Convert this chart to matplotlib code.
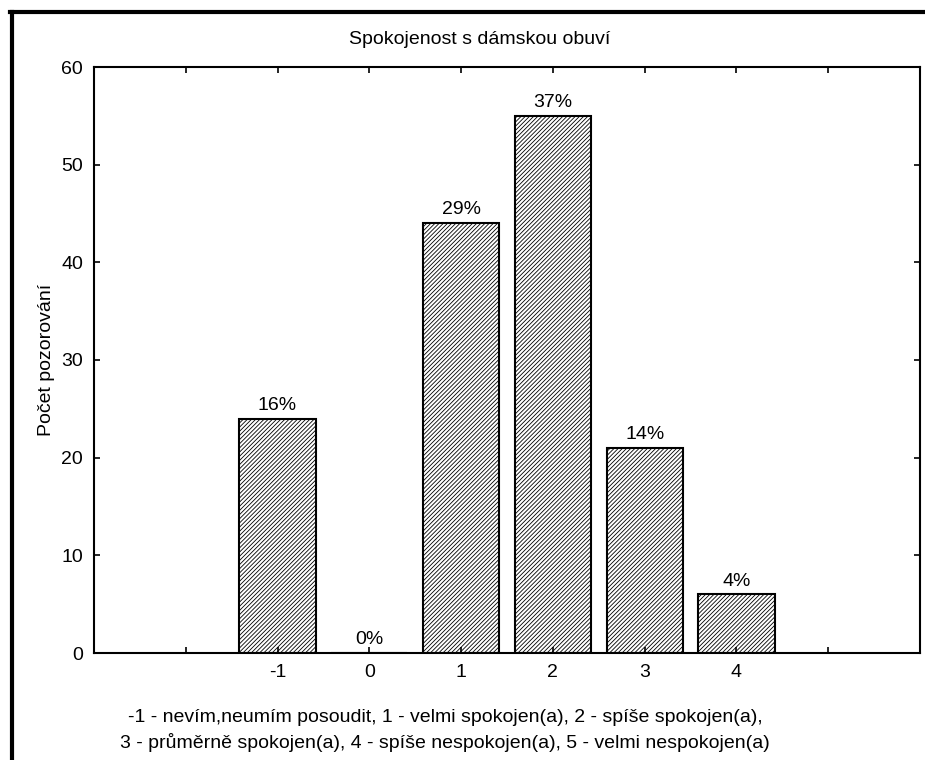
import numpy as np
import matplotlib
matplotlib.use("Agg")
import matplotlib.pyplot as plt
from matplotlib.lines import Line2D

# ── Data ──────────────────────────────────────────────────────────────────
categories = [-1, 0, 1, 2, 3, 4]
counts     = [24, 0, 44, 55, 21, 6]
pct_labels = ["16%", "0%", "29%", "37%", "14%", "4%"]
tick_pos   = list(range(-3, 7))
title      = "Spokojenost s dámskou obuví"
ylabel     = "Počet pozorování"
note_lines = ["-1 - nevím,neumím posoudit, 1 - velmi spokojen(a), 2 - spíše spokojen(a),",
              "3 - průměrně spokojen(a), 4 - spíše nespokojen(a), 5 - velmi nespokojen(a)"]

FS = 14
plt.rcParams["font.family"] = ["Liberation Sans", "DejaVu Sans"]
plt.rcParams["hatch.color"] = "#6a6a6a"
plt.rcParams["hatch.linewidth"] = 0.6

fig = plt.figure(figsize=(9.25, 7.6), dpi=100)
ax = fig.add_axes([94 / 925, 1 - 653 / 760, 826 / 925, 586 / 760])

bars = ax.bar(categories, counts, width=0.83, facecolor="white",
              edgecolor="black", linewidth=1.5, hatch="////////")
for b, lab in zip(bars, pct_labels):
    ax.text(b.get_x() + b.get_width() / 2, b.get_height() + 0.5, lab,
            ha="center", va="bottom", fontsize=FS)

ax.set_xlim(-3, 6)
ax.set_ylim(0, 60)
ax.set_xticks(tick_pos)
ax.set_xticklabels([str(t) if t in categories else "" for t in tick_pos])
ax.set_yticks(range(0, 61, 10))
ax.tick_params(direction="in", length=4, width=1.2, top=True, right=True,
               labelsize=FS, pad=8)
for s in ax.spines.values():
    s.set_linewidth(1.5)
ax.set_ylabel(ylabel, fontsize=FS, labelpad=4)

fig.text(480 / 925, 1 - 40 / 760, title, ha="center", va="center", fontsize=FS)
fig.text(445 / 925, 1 - 717 / 760, note_lines[0], ha="center", va="center", fontsize=FS)
fig.text(445 / 925, 1 - 742 / 760, note_lines[1], ha="center", va="center", fontsize=FS)

# outer frame (top and left edges only, as in the source screenshot)
fig.add_artist(Line2D([11.5 / 925, 11.5 / 925], [0, 1 - 12 / 760],
                      transform=fig.transFigure, color="black", linewidth=3))
fig.add_artist(Line2D([10 / 925, 1], [1 - 12 / 760, 1 - 12 / 760],
                      transform=fig.transFigure, color="black", linewidth=3))

fig.savefig("out.png", dpi=100)
